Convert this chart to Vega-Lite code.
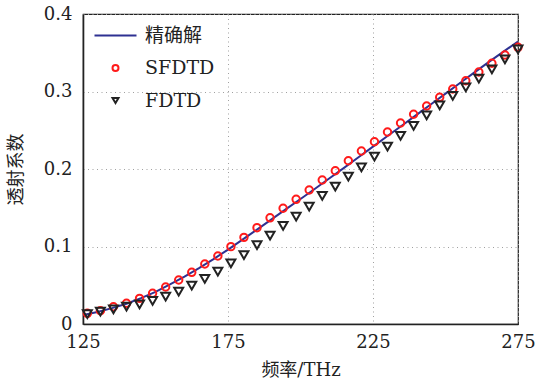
{
  "$schema": "https://vega.github.io/schema/vega-lite/v6.json",
  "autosize": {"type": "none"},
  "padding": {"left": 83, "top": 14, "right": 17, "bottom": 59},
  "width": 435,
  "height": 310,
  "background": "white",
  "config": {
    "view": {"stroke": "#222222", "strokeWidth": 1.2},
    "axis": {
      "labelFont": "DejaVu Serif",
      "labelFontSize": 18,
      "labelColor": "#222222",
      "labelFlush": false,
      "titleFont": "DejaVu Serif, Noto Sans CJK SC",
      "titleFontSize": 18,
      "titleFontWeight": "normal",
      "titleColor": "#222222",
      "ticks": false,
      "domainColor": "#222222",
      "domainWidth": 1.6,
      "gridColor": "#a0a0a0",
      "gridDash": [1, 3.5],
      "gridWidth": 1
    },
    "legend": {
      "labelFont": "DejaVu Serif, Noto Sans CJK SC",
      "labelFontSize": 19,
      "labelColor": "#222222",
      "symbolStrokeWidth": 2
    }
  },
  "datasets": {
    "curves": [
      {"f": 125, "v": 0.0116, "s": "精确解"},
      {"f": 130, "v": 0.0155, "s": "精确解"},
      {"f": 135, "v": 0.0205, "s": "精确解"},
      {"f": 140, "v": 0.0262, "s": "精确解"},
      {"f": 145, "v": 0.0333, "s": "精确解"},
      {"f": 150, "v": 0.0415, "s": "精确解"},
      {"f": 155, "v": 0.0510, "s": "精确解"},
      {"f": 160, "v": 0.0612, "s": "精确解"},
      {"f": 165, "v": 0.0722, "s": "精确解"},
      {"f": 170, "v": 0.0838, "s": "精确解"},
      {"f": 175, "v": 0.0960, "s": "精确解"},
      {"f": 180, "v": 0.1088, "s": "精确解"},
      {"f": 185, "v": 0.1218, "s": "精确解"},
      {"f": 190, "v": 0.1350, "s": "精确解"},
      {"f": 195, "v": 0.1482, "s": "精确解"},
      {"f": 200, "v": 0.1613, "s": "精确解"},
      {"f": 205, "v": 0.1745, "s": "精确解"},
      {"f": 210, "v": 0.1880, "s": "精确解"},
      {"f": 215, "v": 0.2015, "s": "精确解"},
      {"f": 220, "v": 0.2151, "s": "精确解"},
      {"f": 225, "v": 0.2288, "s": "精确解"},
      {"f": 230, "v": 0.2425, "s": "精确解"},
      {"f": 235, "v": 0.2562, "s": "精确解"},
      {"f": 240, "v": 0.2699, "s": "精确解"},
      {"f": 245, "v": 0.2836, "s": "精确解"},
      {"f": 250, "v": 0.2973, "s": "精确解"},
      {"f": 255, "v": 0.3110, "s": "精确解"},
      {"f": 260, "v": 0.3247, "s": "精确解"},
      {"f": 265, "v": 0.3383, "s": "精确解"},
      {"f": 270, "v": 0.3515, "s": "精确解"},
      {"f": 275, "v": 0.3645, "s": "精确解"}
    ],
    "markers": [
      {"f": 126.5, "v": 0.0138, "s": "SFDTD"},
      {"f": 131, "v": 0.0172, "s": "SFDTD"},
      {"f": 135.5, "v": 0.0223, "s": "SFDTD"},
      {"f": 140, "v": 0.0267, "s": "SFDTD"},
      {"f": 144.5, "v": 0.0331, "s": "SFDTD"},
      {"f": 149, "v": 0.0396, "s": "SFDTD"},
      {"f": 153.5, "v": 0.0477, "s": "SFDTD"},
      {"f": 158, "v": 0.0568, "s": "SFDTD"},
      {"f": 162.5, "v": 0.0667, "s": "SFDTD"},
      {"f": 167, "v": 0.0774, "s": "SFDTD"},
      {"f": 171.5, "v": 0.0877, "s": "SFDTD"},
      {"f": 176, "v": 0.0998, "s": "SFDTD"},
      {"f": 180.5, "v": 0.1118, "s": "SFDTD"},
      {"f": 185, "v": 0.1243, "s": "SFDTD"},
      {"f": 189.5, "v": 0.1370, "s": "SFDTD"},
      {"f": 194, "v": 0.1493, "s": "SFDTD"},
      {"f": 198.5, "v": 0.1609, "s": "SFDTD"},
      {"f": 203, "v": 0.1729, "s": "SFDTD"},
      {"f": 207.5, "v": 0.1858, "s": "SFDTD"},
      {"f": 212, "v": 0.1978, "s": "SFDTD"},
      {"f": 216.5, "v": 0.2107, "s": "SFDTD"},
      {"f": 221, "v": 0.2232, "s": "SFDTD"},
      {"f": 225.5, "v": 0.2352, "s": "SFDTD"},
      {"f": 230, "v": 0.2477, "s": "SFDTD"},
      {"f": 234.5, "v": 0.2594, "s": "SFDTD"},
      {"f": 239, "v": 0.2706, "s": "SFDTD"},
      {"f": 243.5, "v": 0.2813, "s": "SFDTD"},
      {"f": 248, "v": 0.2925, "s": "SFDTD"},
      {"f": 252.5, "v": 0.3032, "s": "SFDTD"},
      {"f": 257, "v": 0.3139, "s": "SFDTD"},
      {"f": 261.5, "v": 0.3252, "s": "SFDTD"},
      {"f": 266, "v": 0.3364, "s": "SFDTD"},
      {"f": 270.5, "v": 0.3471, "s": "SFDTD"},
      {"f": 275, "v": 0.3570, "s": "SFDTD"},
      {"f": 126.5, "v": 0.0129, "s": "FDTD"},
      {"f": 131, "v": 0.0159, "s": "FDTD"},
      {"f": 135.5, "v": 0.0189, "s": "FDTD"},
      {"f": 140, "v": 0.0223, "s": "FDTD"},
      {"f": 144.5, "v": 0.0254, "s": "FDTD"},
      {"f": 149, "v": 0.0297, "s": "FDTD"},
      {"f": 153.5, "v": 0.0353, "s": "FDTD"},
      {"f": 158, "v": 0.0417, "s": "FDTD"},
      {"f": 162.5, "v": 0.0495, "s": "FDTD"},
      {"f": 167, "v": 0.0581, "s": "FDTD"},
      {"f": 171.5, "v": 0.0675, "s": "FDTD"},
      {"f": 176, "v": 0.0783, "s": "FDTD"},
      {"f": 180.5, "v": 0.0890, "s": "FDTD"},
      {"f": 185, "v": 0.1019, "s": "FDTD"},
      {"f": 189.5, "v": 0.1139, "s": "FDTD"},
      {"f": 194, "v": 0.1265, "s": "FDTD"},
      {"f": 198.5, "v": 0.1385, "s": "FDTD"},
      {"f": 203, "v": 0.1514, "s": "FDTD"},
      {"f": 207.5, "v": 0.1652, "s": "FDTD"},
      {"f": 212, "v": 0.1772, "s": "FDTD"},
      {"f": 216.5, "v": 0.1901, "s": "FDTD"},
      {"f": 221, "v": 0.2022, "s": "FDTD"},
      {"f": 225.5, "v": 0.2159, "s": "FDTD"},
      {"f": 230, "v": 0.2288, "s": "FDTD"},
      {"f": 234.5, "v": 0.2426, "s": "FDTD"},
      {"f": 239, "v": 0.2555, "s": "FDTD"},
      {"f": 243.5, "v": 0.2693, "s": "FDTD"},
      {"f": 248, "v": 0.2822, "s": "FDTD"},
      {"f": 252.5, "v": 0.2942, "s": "FDTD"},
      {"f": 257, "v": 0.3054, "s": "FDTD"},
      {"f": 261.5, "v": 0.3165, "s": "FDTD"},
      {"f": 266, "v": 0.3286, "s": "FDTD"},
      {"f": 270.5, "v": 0.3415, "s": "FDTD"},
      {"f": 275, "v": 0.3545, "s": "FDTD"}
    ]
  },
  "encoding": {
    "x": {
      "field": "f", "type": "quantitative",
      "scale": {"domain": [125, 275], "nice": false, "zero": false},
      "axis": {"values": [125, 175, 225, 275], "title": "频率/THz", "labelPadding": 9, "titlePadding": 10}
    },
    "y": {
      "field": "v", "type": "quantitative",
      "scale": {"domain": [0, 0.4], "nice": false},
      "axis": {"values": [0, 0.1, 0.2, 0.3, 0.4], "format": "~g", "title": "透射系数", "labelPadding": 11, "titlePadding": 18}
    },
    "color": {
      "field": "s", "type": "nominal",
      "scale": {"domain": ["精确解", "SFDTD", "FDTD"], "range": ["#2e3192", "#ff1a1a", "#222222"]},
      "legend": {"title": null, "orient": "none", "legendX": 23, "legendY": 12, "symbolSize": 36, "labelOffset": 20, "rowPadding": 12.5, "symbolFillColor": "transparent"}
    }
  },
  "layer": [
    {
      "data": {"name": "curves"},
      "mark": {"type": "line", "strokeWidth": 2, "clip": true}
    },
    {
      "data": {"name": "markers"},
      "mark": {"type": "point", "filled": false, "strokeWidth": 2, "opacity": 1},
      "encoding": {
        "shape": {
          "field": "s", "type": "nominal",
          "scale": {"domain": ["精确解", "SFDTD", "FDTD"], "range": ["M-7,0H7", "circle", "triangle-down"]},
          "legend": {"title": null, "orient": "none", "legendX": 23, "legendY": 12, "symbolSize": 36, "labelOffset": 20, "rowPadding": 12.5, "symbolFillColor": "transparent"}
        },
        "size": {
          "field": "s", "type": "nominal",
          "scale": {"domain": ["SFDTD", "FDTD"], "range": [55, 80]},
          "legend": null
        }
      }
    }
  ]
}
